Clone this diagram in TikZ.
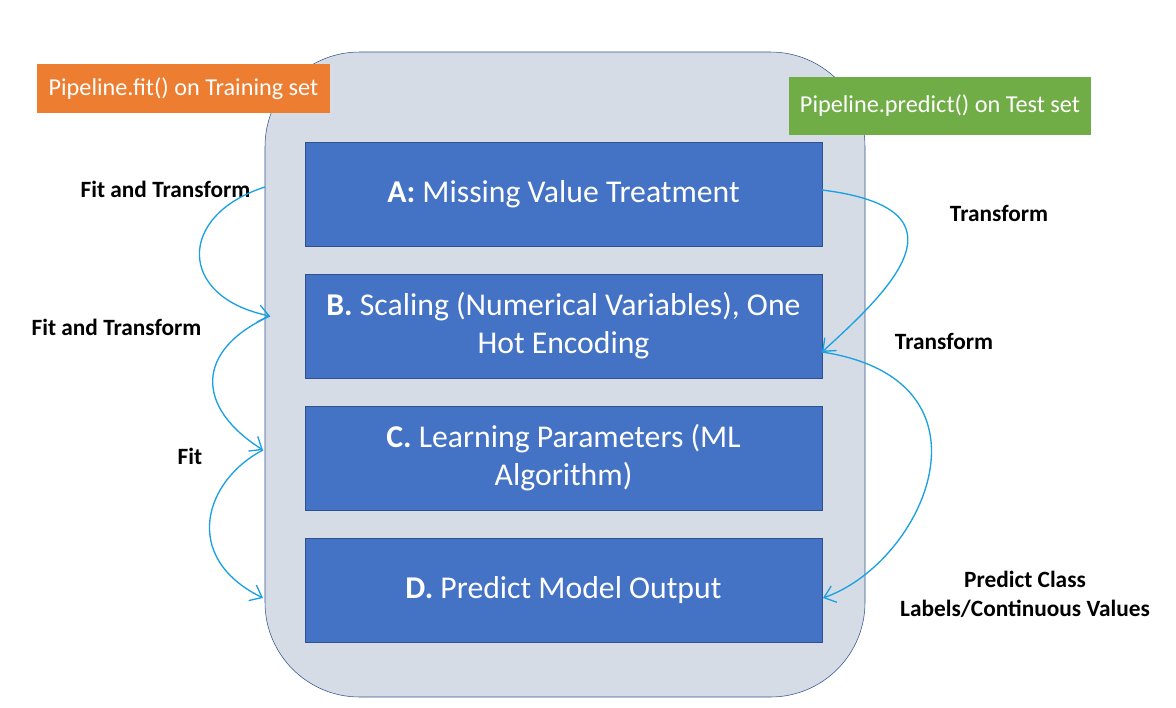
\documentclass[tikz,border=0pt]{standalone}
\usepackage{fontspec}
\setmainfont{Carlito}
\usetikzlibrary{arrows.meta, positioning}
\definecolor{panelgray}{HTML}{D6DCE5}
\definecolor{stepblue}{HTML}{4472C4}
\definecolor{edgeblue}{HTML}{2F528F}
\definecolor{fitorange}{HTML}{ED7D31}
\definecolor{predgreen}{HTML}{70AD47}
\definecolor{inkcyan}{HTML}{1BA1E2}
\tikzset{
    stepbox/.style={draw=edgeblue, fill=stepblue, text=white, align=center,
        minimum width=387.75pt, minimum height=78pt, inner sep=0pt,
        font=\fontsize{23.8}{28.5}\selectfont},
    tagbox/.style={text=white, inner sep=0pt, font=\fontsize{18.2}{22}\selectfont},
    note/.style={align=center, font=\bfseries\fontsize{17.5}{21.75}\selectfont},
    flow/.style={inkcyan, line width=1pt, -{Straight Barb[length=8pt, width=13pt]}}
}

\begin{document}
\begin{tikzpicture}[x=0.75pt, y=-0.75pt, node distance=99pt]
    \useasboundingbox (0,0) rectangle (1176,707);

    % Pipeline panel
    \node (panel) [draw=edgeblue, fill=panelgray, rounded corners=71pt,
        minimum width=450pt, minimum height=483.75pt] at (565,374.5) {};

    % Steps
    \node (stepA) [stepbox] at (563.5,194) {\textbf{A:} Missing Value Treatment};
    \node (stepB) [below of=stepA, stepbox] {\textbf{B.} Scaling (Numerical Variables), One\\Hot Encoding};
    \node (stepC) [below of=stepB, stepbox] {\textbf{C.} Learning Parameters (ML\\Algorithm)};
    \node (stepD) [below of=stepC, stepbox] {\textbf{D.} Predict Model Output};

    % Tags
    \node (fittag) [tagbox, fill=fitorange, minimum width=219.75pt, minimum height=36.75pt] at (183.5,88.5) {Pipeline.fit() on Training set};
    \node (predtag) [tagbox, fill=predgreen, minimum width=226.5pt, minimum height=43pt] at (940,106) {Pipeline.predict() on Test set};

    % Notes
    \node (fitA) [note] at (165.5,189) {Fit and Transform};
    \node (fitB) [note] at (116.5,327) {Fit and Transform};
    \node (fitC) [note] at (190,456) {Fit};
    \node (transA) [note] at (999,213) {Transform};
    \node (transB) [note] at (944,341) {Transform};
    \node (predD) [note] at (1025,594) {Predict Class\\Labels/Continuous Values};

    % Ends of the strokes
    \coordinate (inA) at (265,187);
    \coordinate (inB) at (270,316);
    \coordinate (inC) at (263,450);
    \coordinate (inD) at (263,598);
    \coordinate (outA) at (822,190);
    \coordinate (outB) at (822,352);
    \coordinate (outD) at (823,598);

    % Fit strokes
    \draw[flow] (inA) .. controls (177,215) and (177,297) .. (inB);
    \draw[flow] (inB) .. controls (195,350) and (195,407) .. (inC);
    \draw[flow] (inC) .. controls (205,480) and (180,557) .. (inD);

    % Transform strokes
    \draw[flow] (outA) .. controls (975,209) and (890,290) .. (outB);
    \draw[flow] (outB) .. controls (1005,380) and (925,562) .. (outD);
\end{tikzpicture}
\end{document}
